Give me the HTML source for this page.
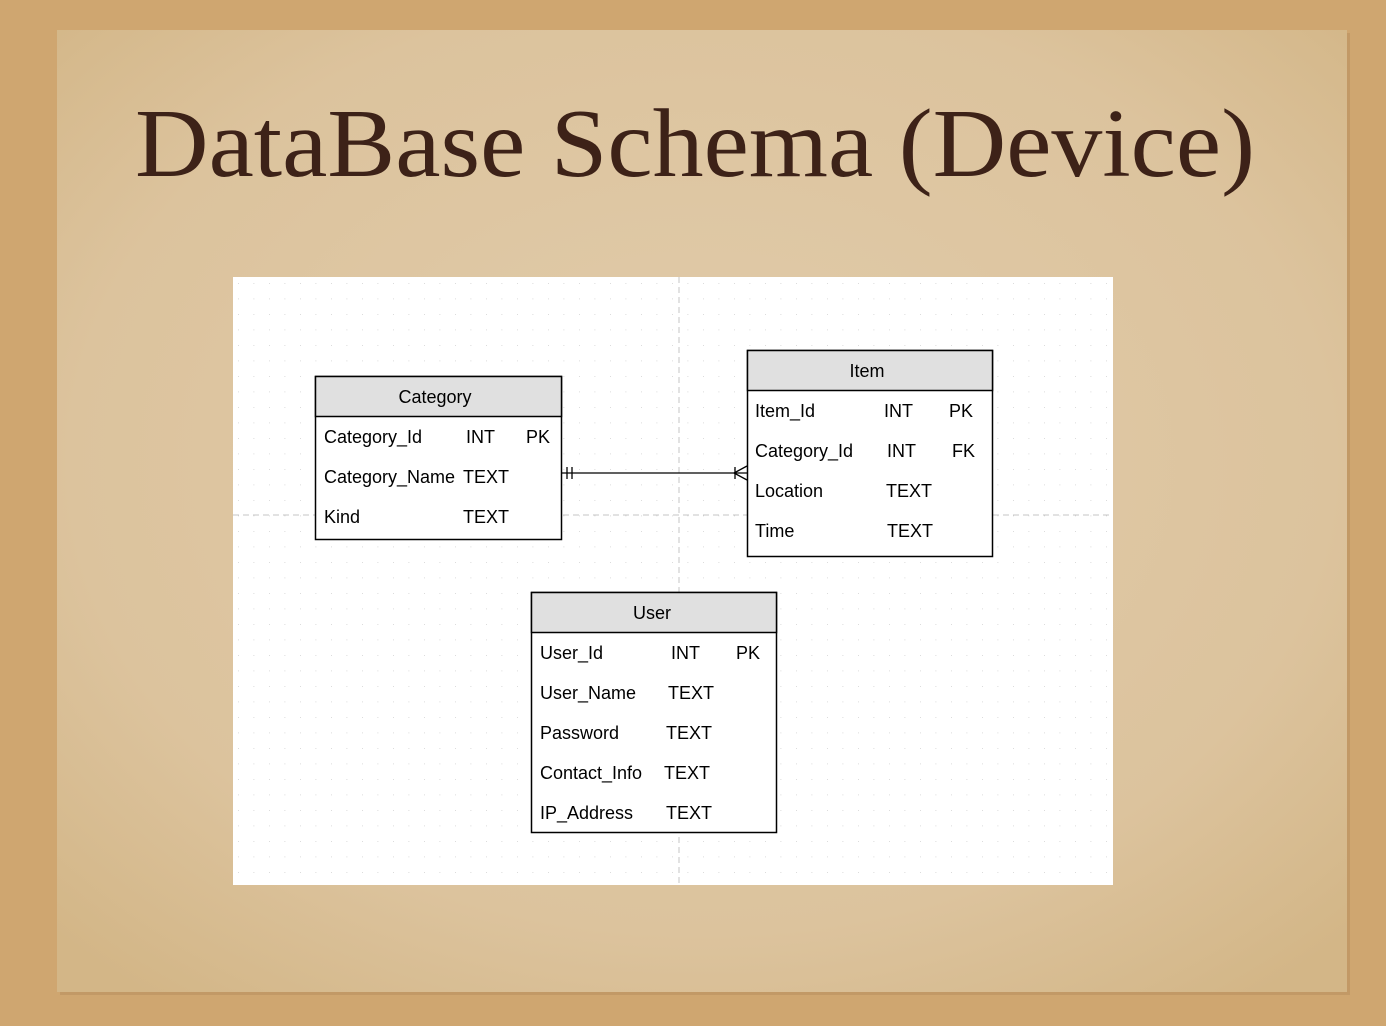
<!DOCTYPE html>
<html><head><meta charset="utf-8"><style>
html,body{margin:0;padding:0;width:1386px;height:1026px;overflow:hidden;background:#cfa872}
</style></head><body>
<svg width="1386" height="1026" xmlns="http://www.w3.org/2000/svg" style="position:absolute;left:0;top:0">
<defs>
<radialGradient id="pg" cx="50%" cy="45%" r="70%">
<stop offset="0" stop-color="#e1ccab"/><stop offset="0.7" stop-color="#dcc39d"/><stop offset="1" stop-color="#d3b687"/>
</radialGradient>
<pattern id="dots" x="238" y="283" width="15.5" height="15.5" patternUnits="userSpaceOnUse">
<rect x="-0.7" y="-0.7" width="1.5" height="1.5" fill="#c8c8c8"/>
</pattern>
</defs>
<rect width="1386" height="1026" fill="#cfa670"/>
<rect x="60" y="33" width="1290" height="962" fill="#b08858" opacity="0.4"/>
<rect x="57" y="30" width="1290" height="962" fill="url(#pg)"/>
<text x="135" y="176" font-family="Liberation Serif, serif" font-size="98" fill="#3d2218" textLength="1120" lengthAdjust="spacingAndGlyphs">DataBase Schema (Device)</text>
<rect x="233" y="277" width="880" height="608" fill="#fff"/>
<rect x="233" y="277" width="880" height="608" fill="url(#dots)"/>
<line x1="679" y1="277" x2="679" y2="885" stroke="#c4c4c4" stroke-dasharray="6,4"/>
<line x1="233" y1="515" x2="1113" y2="515" stroke="#c4c4c4" stroke-dasharray="6,4"/>
<g font-family="Liberation Sans, Arial, sans-serif" font-size="18" fill="#000">
<!-- Category -->
<rect x="315.5" y="376.5" width="246" height="163" fill="#fff" stroke="#000" stroke-width="1.5"/>
<rect x="315.5" y="376.5" width="246" height="40" fill="#e0e0e0" stroke="#000" stroke-width="1.5"/>
<text x="435" y="403" text-anchor="middle">Category</text>
<text x="324" y="443">Category_Id</text><text x="466" y="443">INT</text><text x="526" y="443">PK</text>
<text x="324" y="483">Category_Name</text><text x="463" y="483">TEXT</text>
<text x="324" y="523">Kind</text><text x="463" y="523">TEXT</text>
<!-- Item -->
<rect x="747.5" y="350.5" width="245" height="206" fill="#fff" stroke="#000" stroke-width="1.5"/>
<rect x="747.5" y="350.5" width="245" height="40" fill="#e0e0e0" stroke="#000" stroke-width="1.5"/>
<text x="867" y="377" text-anchor="middle">Item</text>
<text x="755" y="417">Item_Id</text><text x="884" y="417">INT</text><text x="949" y="417">PK</text>
<text x="755" y="457">Category_Id</text><text x="887" y="457">INT</text><text x="952" y="457">FK</text>
<text x="755" y="497">Location</text><text x="886" y="497">TEXT</text>
<text x="755" y="537">Time</text><text x="887" y="537">TEXT</text>
<!-- User -->
<rect x="531.5" y="592.5" width="245" height="240" fill="#fff" stroke="#000" stroke-width="1.5"/>
<rect x="531.5" y="592.5" width="245" height="40" fill="#e0e0e0" stroke="#000" stroke-width="1.5"/>
<text x="652" y="619" text-anchor="middle">User</text>
<text x="540" y="659">User_Id</text><text x="671" y="659">INT</text><text x="736" y="659">PK</text>
<text x="540" y="699">User_Name</text><text x="668" y="699">TEXT</text>
<text x="540" y="739">Password</text><text x="666" y="739">TEXT</text>
<text x="540" y="779">Contact_Info</text><text x="664" y="779">TEXT</text>
<text x="540" y="819">IP_Address</text><text x="666" y="819">TEXT</text>
</g>
<!-- connector -->
<g stroke="#000" stroke-width="1.3" fill="none">
<line x1="562" y1="473" x2="747" y2="473"/>
<line x1="567" y1="467" x2="567" y2="479"/>
<line x1="572" y1="467" x2="572" y2="479"/>
<line x1="735" y1="467" x2="735" y2="479"/>
<polyline points="747,466 734,473 747,480"/>
</g>
</svg>
</body></html>
